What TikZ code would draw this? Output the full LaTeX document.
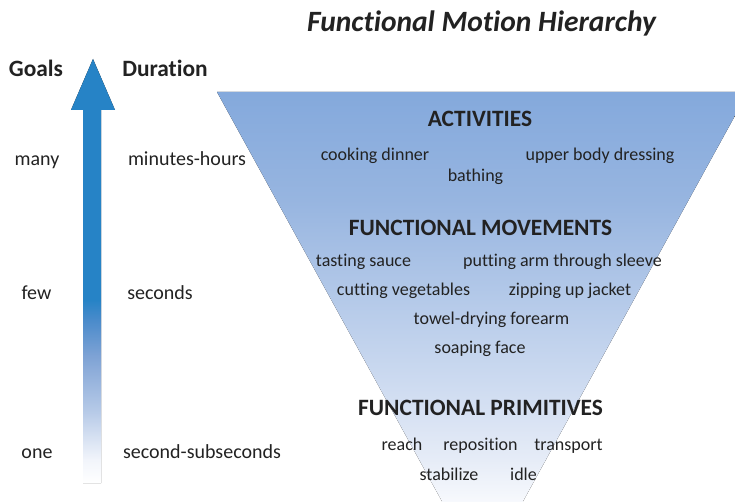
\documentclass[tikz,border=0pt]{standalone}
\usepackage{fontspec}
\setmainfont{Carlito}[Ligatures={NoCommon,NoContextual}]
\definecolor{txt}{HTML}{222222}
\definecolor{arrA}{HTML}{2683C6}
\definecolor{arrB}{HTML}{4A8BCB}
\definecolor{arrC}{HTML}{7FA3D5}
\definecolor{arrD}{HTML}{B8CBE8}
\definecolor{arrE}{HTML}{F2F5FB}
\definecolor{triA}{HTML}{84A9DC}
\definecolor{triB}{HTML}{97B5E0}
\definecolor{triC}{HTML}{CCDAF0}
\definecolor{triD}{HTML}{E6ECF7}
\definecolor{triE}{HTML}{F7F9FD}
\pgfdeclareverticalshading{arrowfade}{100bp}{color(0bp)=(white); color(25bp)=(white); color(27.7bp)=(arrE); color(33.3bp)=(arrD); color(39.9bp)=(arrC); color(44.2bp)=(arrB); color(46.6bp)=(arrA); color(75bp)=(arrA); color(100bp)=(arrA)}
\pgfdeclareverticalshading{trifade}{100bp}{color(0bp)=(white); color(25bp)=(white); color(32.6bp)=(triE); color(36.9bp)=(triD); color(45.2bp)=(triC); color(63.8bp)=(triB); color(75bp)=(triA); color(100bp)=(triA)}
\begin{document}
\begin{tikzpicture}[x=1pt,y=-1pt,
  every node/.style={inner sep=0pt,anchor=base,text=txt},
  side/.style={font=\fontsize{20}{24}\selectfont},
  lbl/.style={font=\fontsize{18}{22}\selectfont},
  hdr/.style={font=\fontsize{23.4}{28}\selectfont\bfseries},
  ttl/.style={font=\fontsize{29.5}{35}\selectfont\bfseries\itshape}]
\useasboundingbox (0,0) rectangle (735,502);
\begin{scope}
\clip (0,0) rectangle (735,502);
\fill[shading=trifade] (217,92) -- (748,92) -- (482.5,575) -- cycle;
\end{scope}
\fill[shading=arrowfade] (83,483) -- (83,110) -- (71,110) -- (93,59) -- (115,110) -- (101,110) -- (101,483) -- cycle;
% title
\node[ttl] (title) at (481.5,32) {Functional Motion Hierarchy};
% left columns
\node[hdr] (goals) at (36,77) {Goals};
\node[hdr] (dur) at (165,77) {Duration};
\node[side] (many) at (37,166) {many};
\node[side] (mh) at (187,166) {minutes-hours};
\node[side] (few) at (36.5,299) {few};
\node[side] (sec) at (160,299) {seconds};
\node[side] (one) at (37,458) {one};
\node[side] (ss) at (202,458) {second-subseconds};
% activities
\node[hdr] (act) at (480,127) {ACTIVITIES};
\node[lbl] (cook) at (375,161) {cooking dinner};
\node[lbl] (bath) at (475.5,182) {bathing};
\node[lbl] (dress) at (600,161) {upper body dressing};
% movements
\node[hdr] (mov) at (480.5,236) {FUNCTIONAL MOVEMENTS};
\node[lbl] (taste) at (363.5,266) {tasting sauce};
\node[lbl] (sleeve) at (562.5,266) {putting arm through sleeve};
\node[lbl] (cut) at (403.5,295) {cutting vegetables};
\node[lbl] (zip) at (570,295) {zipping up jacket};
\node[lbl] (towel) at (491.5,324) {towel-drying forearm};
\node[lbl] (soap) at (480,353) {soaping face};
% primitives
\node[hdr] (prim) at (480.5,415) {FUNCTIONAL PRIMITIVES};
\node[lbl] (reach) at (402,450) {reach};
\node[lbl] (repos) at (480.5,450) {reposition};
\node[lbl] (trans) at (568.5,450) {transport};
\node[lbl] (stab) at (449,480) {stabilize};
\node[lbl] (idle) at (523.5,480) {idle};
\end{tikzpicture}
\end{document}
